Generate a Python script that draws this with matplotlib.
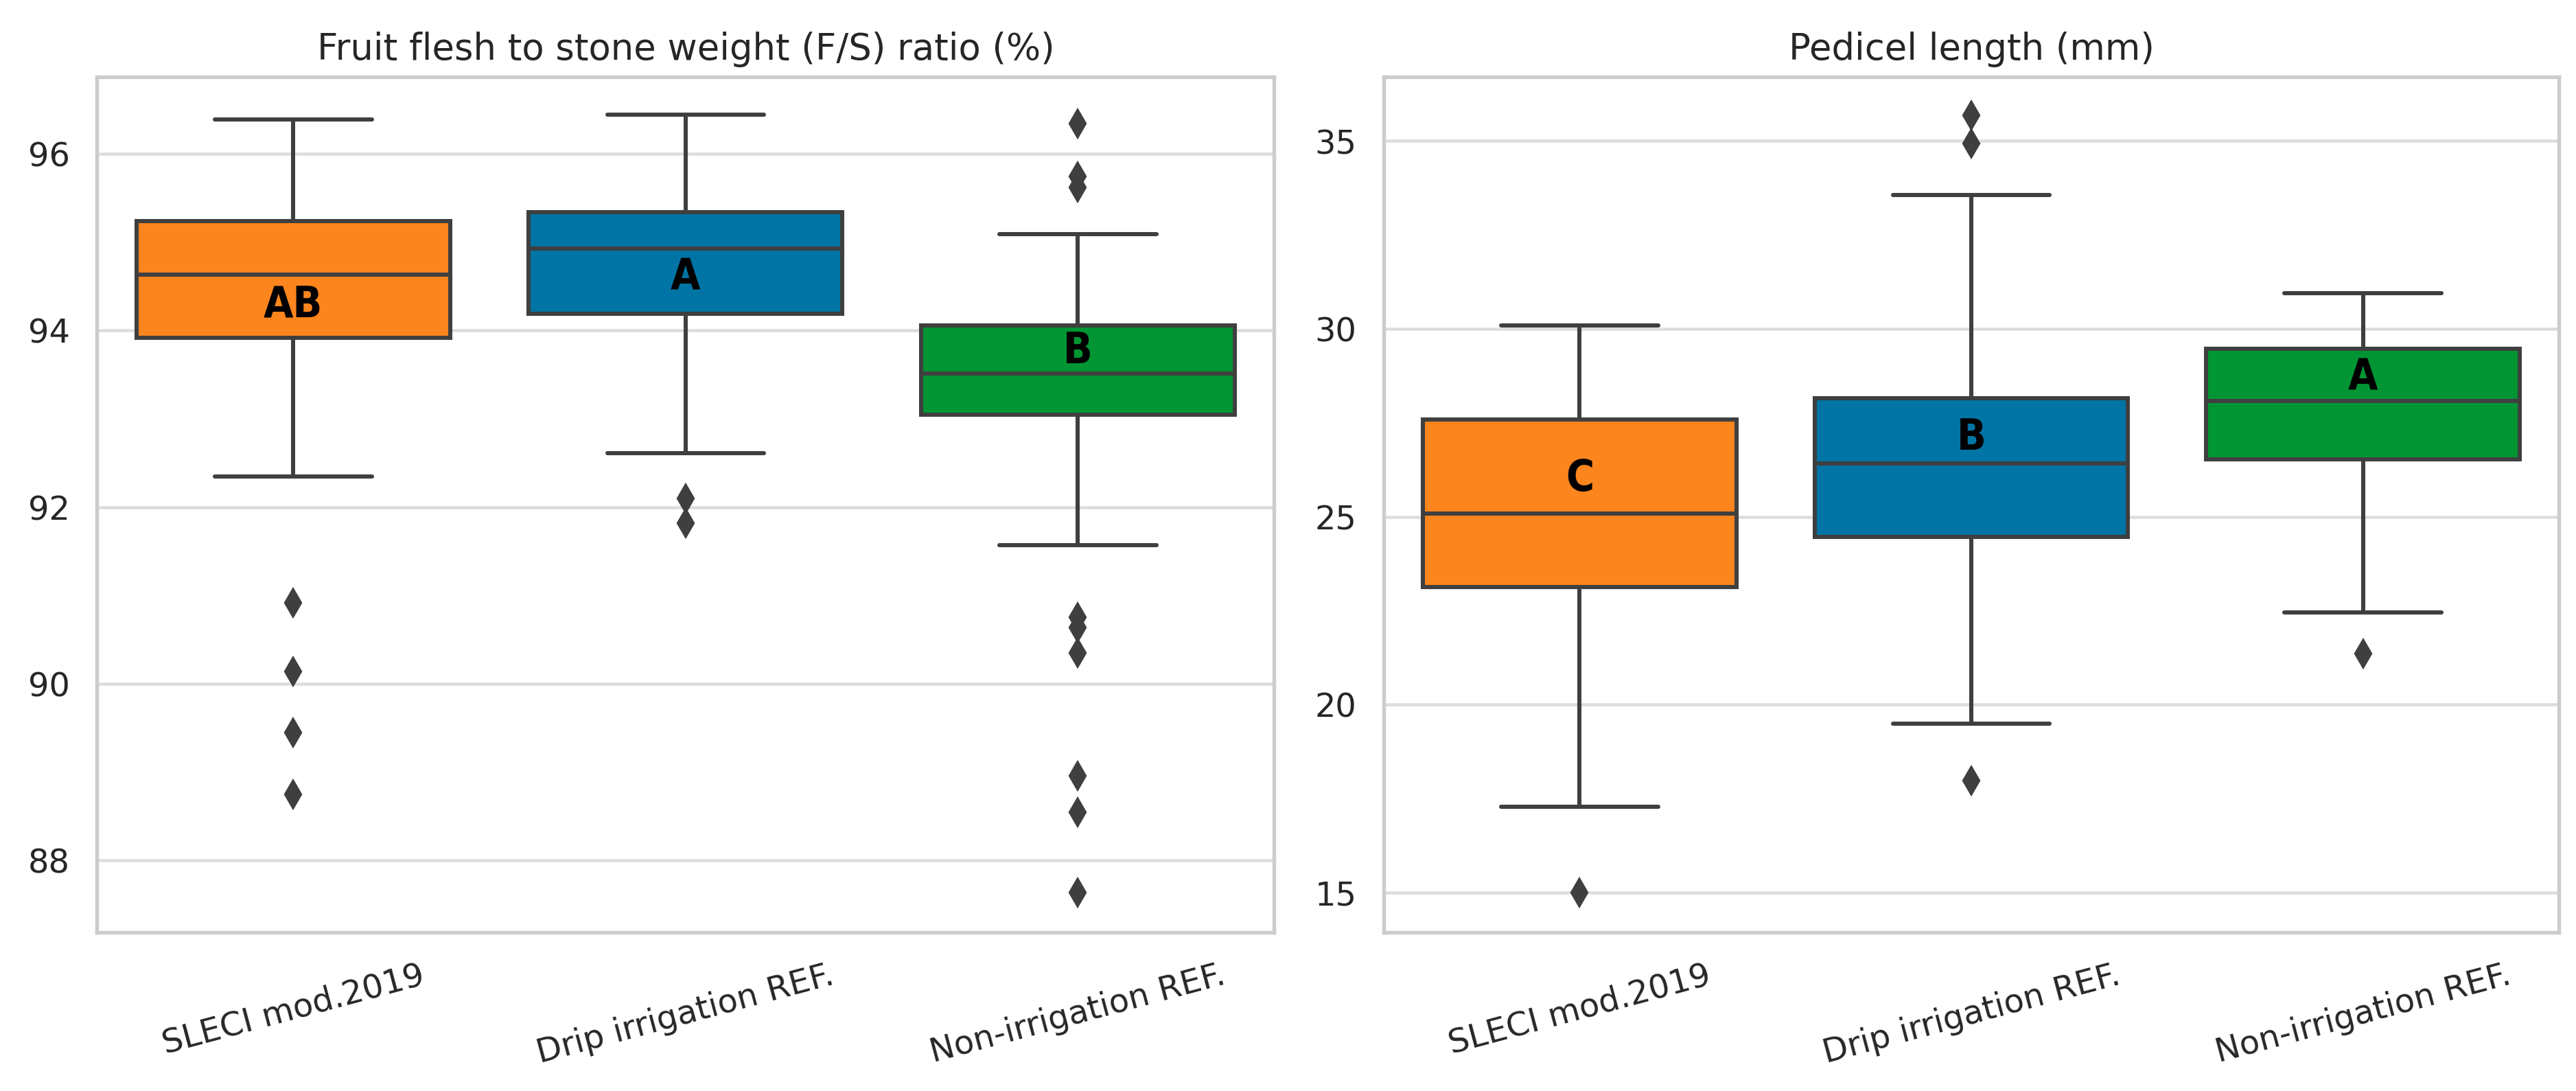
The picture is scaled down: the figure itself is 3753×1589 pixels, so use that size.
import matplotlib
matplotlib.use("Agg")
import matplotlib.pyplot as plt
import seaborn as sns

sns.set_theme(style="whitegrid")
plt.rcParams['font.family'] = ['DejaVu Sans']

groups = ["SLECI mod.2019", "Drip irrigation REF.", "Non-irrigation REF."]
colors = ["#FC851E", "#0174A6", "#019533"]

# fruit flesh to stone weight ratio (%)
fs_whislo = [92.35, 92.61, 91.57]
fs_q1 = [93.92, 94.19, 93.05]
fs_med = [94.63, 94.93, 93.51]
fs_q3 = [95.24, 95.34, 94.06]
fs_whishi = [96.39, 96.44, 95.09]
fs_fliers = [
    [90.92, 90.14, 89.45, 88.75],
    [92.10, 91.82],
    [96.34, 95.74, 95.62, 90.75, 90.64, 90.35, 88.96, 88.55, 87.64],
]
fs_letters = ["AB", "A", "B"]
fs_letter_y = [94.28, 94.60, 93.76]

# pedicel length (mm)
pl_whislo = [17.28, 19.49, 22.45]
pl_q1 = [23.12, 24.46, 26.53]
pl_med = [25.09, 26.41, 28.09]
pl_q3 = [27.59, 28.15, 29.47]
pl_whishi = [30.09, 33.57, 30.95]
pl_fliers = [
    [15.0],
    [35.69, 34.94, 17.97],
    [21.36],
]
pl_letters = ["C", "B", "A"]
pl_letter_y = [26.0, 27.1, 28.7]


def draw_panel(ax, title, lo, q1, med, q3, hi, fliers, letters, letter_y, ylim, ticks):
    stats = []
    for i in range(len(groups)):
        stats.append(dict(whislo=lo[i], q1=q1[i], med=med[i], q3=q3[i],
                          whishi=hi[i], fliers=fliers[i], label=groups[i]))
    edge = "#3f3f3f"
    lw = 1.45
    bp = ax.bxp(stats, positions=range(len(groups)), widths=0.8, patch_artist=True,
                boxprops=dict(edgecolor=edge, linewidth=lw),
                medianprops=dict(color=edge, linewidth=lw),
                whiskerprops=dict(color=edge, linewidth=lw),
                capprops=dict(color=edge, linewidth=lw),
                flierprops=dict(marker="d", markerfacecolor=edge, markeredgecolor=edge,
                                markersize=6.3, linestyle="none"))
    for patch, c in zip(bp["boxes"], colors):
        patch.set_facecolor(c)
    for i, (t, y) in enumerate(zip(letters, letter_y)):
        ax.text(i, y, t, ha="center", va="center", fontsize=15, fontweight="bold",
                color="black", fontstretch="condensed")
    ax.set_xlim(-0.5, len(groups) - 0.5)
    ax.set_ylim(*ylim)
    ax.set_yticks(ticks)
    ax.set_xticks(range(len(groups)))
    ax.set_xticklabels(groups, rotation=15, fontsize=11.5)
    ax.tick_params(axis="y", labelsize=11.5)
    ax.grid(axis="x", visible=False)
    ax.grid(axis="y", color="#dddddd", linewidth=1.1)
    for s in ax.spines.values():
        s.set_color("#cccccc")
        s.set_linewidth(1.3)
    ax.set_title(title, fontsize=12.7)


fig = plt.figure(figsize=(12.51, 5.297), dpi=300)
ax1 = fig.add_axes([0.0377, 0.1456, 0.4569, 0.7839])
ax2 = fig.add_axes([0.5372, 0.1456, 0.4561, 0.7839])

draw_panel(ax1, "Fruit flesh to stone weight (F/S) ratio (%)", fs_whislo, fs_q1, fs_med,
           fs_q3, fs_whishi, fs_fliers, fs_letters, fs_letter_y, (87.19, 96.87),
           [88, 90, 92, 94, 96])
draw_panel(ax2, "Pedicel length (mm)", pl_whislo, pl_q1, pl_med, pl_q3, pl_whishi,
           pl_fliers, pl_letters, pl_letter_y, (13.94, 36.71), [15, 20, 25, 30, 35])

plt.savefig("out.png", dpi=300)
